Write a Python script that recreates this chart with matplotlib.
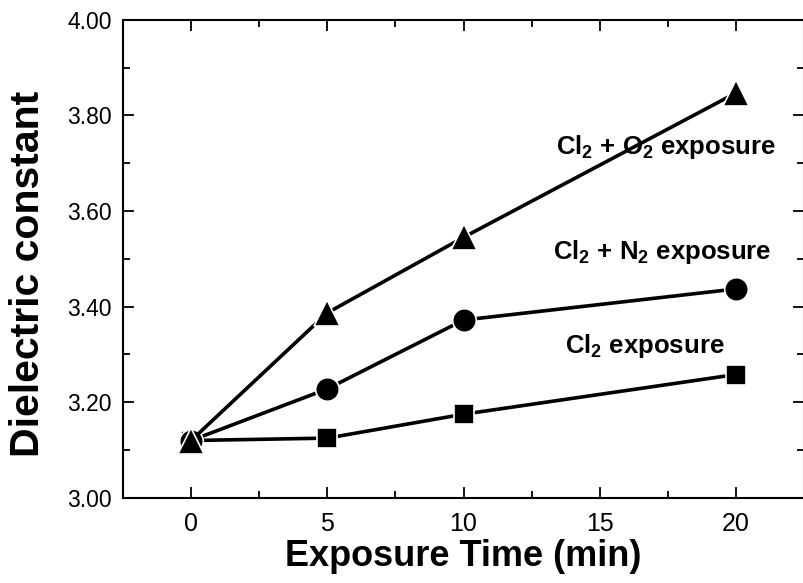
import matplotlib
matplotlib.use('Agg')
import matplotlib.pyplot as plt
from matplotlib.ticker import MultipleLocator

plt.rcParams['font.family'] = ['Liberation Sans', 'DejaVu Sans']
plt.rcParams['mathtext.fontset'] = 'custom'
plt.rcParams['mathtext.rm'] = 'Liberation Sans'
plt.rcParams['mathtext.bf'] = 'Liberation Sans:bold'
plt.rcParams['mathtext.default'] = 'bf'

# exposure time (min)
time = [0, 5, 10, 20]
# dielectric constant for each gas
cl2 = [3.12, 3.125, 3.175, 3.258]
cl2_n2 = [3.12, 3.228, 3.372, 3.437]
cl2_o2 = [3.12, 3.387, 3.545, 3.847]

labels = [r'Cl$_2$ + O$_2$ exposure', r'Cl$_2$ + N$_2$ exposure', r'Cl$_2$ exposure']
label_xy = [(17.45, 3.735), (17.3, 3.515), (16.65, 3.318)]

fig = plt.figure(figsize=(8.04, 5.83), dpi=100)
ax = fig.add_axes([0.153, 0.146, 0.847, 0.82])

ax.plot(time, cl2, '-s', color='black', lw=2.6, ms=15, mec='white', mew=1.2, zorder=3)
ax.plot(time, cl2_n2, '-o', color='black', lw=2.6, ms=17, mec='white', mew=1.2, zorder=3)
ax.plot(time, cl2_o2, '-^', color='black', lw=2.6, ms=19, mec='white', mew=1.2, zorder=4)

for txt, (x, y) in zip(labels, label_xy):
    ax.text(x, y, txt, ha='center', va='center', fontsize=18.5, fontweight='bold')

ax.set_xlim(-2.5, 22.5)
ax.set_ylim(3.0, 4.0)
ax.xaxis.set_major_locator(MultipleLocator(5))
ax.xaxis.set_minor_locator(MultipleLocator(2.5))
ax.yaxis.set_major_locator(MultipleLocator(0.2))
ax.yaxis.set_minor_locator(MultipleLocator(0.1))
ax.yaxis.set_major_formatter(plt.FormatStrFormatter('%.2f'))

ax.tick_params(which='both', direction='in', top=True, right=True, width=1.3)
ax.tick_params(which='major', length=8)
ax.tick_params(which='minor', length=5)
ax.tick_params(axis='x', labelsize=18, pad=10)
ax.tick_params(axis='y', labelsize=16.5, pad=8)
for s in ax.spines.values():
    s.set_linewidth(1.5)

ax.set_xlabel('Exposure Time (min)', fontsize=26, fontweight='bold', labelpad=2)
ax.set_ylabel('Dielectric constant', fontsize=29.5, fontweight='bold')
ax.yaxis.set_label_coords(-0.112, 0.468)

fig.savefig('out.png', dpi=100)
